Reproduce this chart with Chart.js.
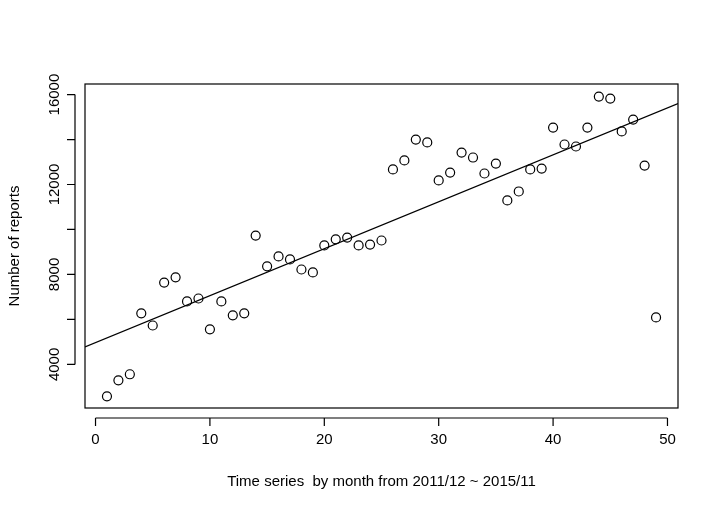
<!DOCTYPE html>
<html>
<head>
<meta charset="UTF-8">
<script src="https://cdn.jsdelivr.net/npm/chart.js"></script>
<style>
  body { margin: 0; background: #fff; }
  #wrap { width: 720px; height: 514px; }
</style>
</head>
<body>
<div id="wrap"><canvas id="grafico"></canvas></div>
<script>
  // monthly report counts, month 1..49
  var meses = [];
  for (var m = 1; m <= 49; m++) meses.push(m);
  var relatorios = [2580, 3290, 3560, 6270, 5730, 7640, 7870, 6800, 6930, 5560,
    6800, 6180, 6270, 9730, 8360, 8800, 8670, 8220, 8090, 9290,
    9560, 9640, 9290, 9330, 9510, 12670, 13070, 14000, 13870, 12180,
    12530, 13420, 13200, 12490, 12930, 11290, 11690, 12670, 12710, 14530,
    13780, 13690, 14530, 15910, 15820, 14360, 14890, 12840, 6090];
  var xTicks = [0, 10, 20, 30, 40, 50];
  var yTicks = [4000, 6000, 8000, 10000, 12000, 14000, 16000];
  var yLabels = [4000, 8000, 12000, 16000];

  // least squares fit, like abline(lm(...))
  var n = meses.length, sx = 0, sy = 0, sxx = 0, sxy = 0;
  for (var i = 0; i < n; i++) {
    sx += meses[i]; sy += relatorios[i];
    sxx += meses[i] * meses[i]; sxy += meses[i] * relatorios[i];
  }
  var b = (n * sxy - sx * sy) / (n * sxx - sx * sx);
  var a = (sy - b * sx) / n;
  var xMin = -0.92, xMax = 50.92;

  var pontos = [];
  for (var i = 0; i < n; i++) pontos.push({ x: meses[i], y: relatorios[i] });

  var eixosR = {
    id: 'eixosR',
    afterDraw: function (chart) {
      var ctx = chart.ctx, ca = chart.chartArea;
      var sxs = chart.scales.x, sys = chart.scales.y;
      ctx.save();
      ctx.strokeStyle = '#000'; ctx.lineWidth = 1.2;
      ctx.strokeRect(ca.left, ca.top, ca.right - ca.left, ca.bottom - ca.top);
      ctx.fillStyle = '#000';
      ctx.font = '15px "Liberation Sans", Arial, sans-serif';
      // x axis
      var y0 = ca.bottom + 10;
      ctx.beginPath();
      ctx.moveTo(sxs.getPixelForValue(0), y0); ctx.lineTo(sxs.getPixelForValue(50), y0);
      xTicks.forEach(function (t) {
        var px = sxs.getPixelForValue(t);
        ctx.moveTo(px, y0); ctx.lineTo(px, y0 + 8);
      });
      ctx.stroke();
      ctx.textAlign = 'center'; ctx.textBaseline = 'top';
      xTicks.forEach(function (t) { ctx.fillText(String(t), sxs.getPixelForValue(t), y0 + 14); });
      // y axis
      var x0 = ca.left - 10;
      ctx.beginPath();
      ctx.moveTo(x0, sys.getPixelForValue(4000)); ctx.lineTo(x0, sys.getPixelForValue(16000));
      yTicks.forEach(function (t) {
        var py = sys.getPixelForValue(t);
        ctx.moveTo(x0, py); ctx.lineTo(x0 - 8, py);
      });
      ctx.stroke();
      yLabels.forEach(function (t) {
        ctx.save();
        ctx.translate(x0 - 13, sys.getPixelForValue(t));
        ctx.rotate(-Math.PI / 2);
        ctx.textAlign = 'center'; ctx.textBaseline = 'bottom';
        ctx.fillText(String(t), 0, 0);
        ctx.restore();
      });
      // titles
      ctx.textAlign = 'center'; ctx.textBaseline = 'middle';
      ctx.fillText('Time series  by month from 2011/12 ~ 2015/11', (ca.left + ca.right) / 2, 482);
      ctx.save();
      ctx.translate(15, (ca.top + ca.bottom) / 2);
      ctx.rotate(-Math.PI / 2);
      ctx.fillText('Number of reports', 0, 0);
      ctx.restore();
      ctx.restore();
    }
  };

  new Chart(document.getElementById('grafico'), {
    type: 'scatter',
    data: {
      datasets: [{
        data: pontos,
        pointStyle: 'circle',
        pointRadius: 4.5,
        borderColor: '#000',
        borderWidth: 1.2,
        backgroundColor: 'rgba(0,0,0,0)'
      }, {
        type: 'line',
        data: [{ x: xMin, y: a + b * xMin }, { x: xMax, y: a + b * xMax }],
        borderColor: '#000',
        borderWidth: 1.3,
        pointRadius: 0,
        fill: false
      }]
    },
    options: {
      responsive: true,
      maintainAspectRatio: false,
      animation: false,
      layout: { padding: { left: 85, right: 42, top: 84, bottom: 106 } },
      plugins: { legend: { display: false }, tooltip: { enabled: false } },
      scales: {
        x: { type: 'linear', min: xMin, max: xMax, display: false },
        y: { type: 'linear', min: 2060, max: 16470, display: false }
      }
    },
    plugins: [eixosR]
  });
</script>
</body>
</html>
